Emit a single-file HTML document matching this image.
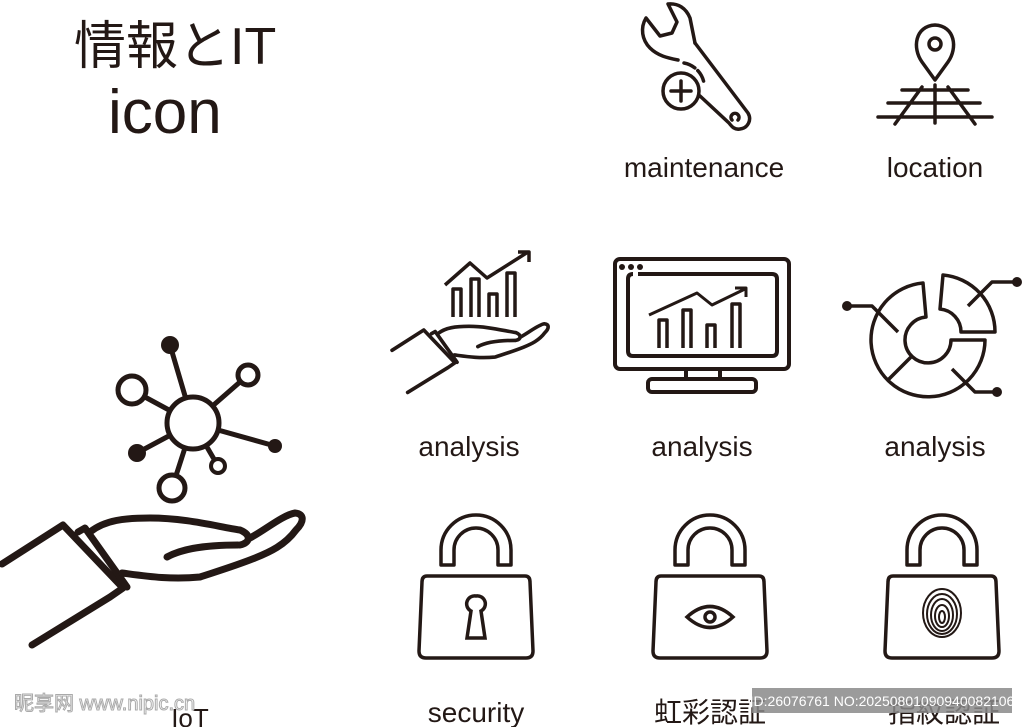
<!DOCTYPE html>
<html><head><meta charset="utf-8"><style>
html,body{margin:0;padding:0;background:#fff;}
svg{display:block;}
text{font-family:"Liberation Sans","Noto Sans CJK JP",sans-serif;fill:#231815;}
</style></head><body>
<svg width="1024" height="727" viewBox="0 0 1024 727" xmlns="http://www.w3.org/2000/svg">
<defs>
<g id="hand" fill="none" stroke="#231815" stroke-width="7" stroke-linecap="round" stroke-linejoin="round">
  <path d="M2,564 L63,525 L123,588 L110,597 L32,645"/>
  <path d="M78,532 L85,528 L127,587"/>
  <path d="M90,532 C105,520 125,518 150,518 C185,518 215,526 240,530 C252,535 250,543 240,545"/>
  <path d="M250,538 C265,530 283,515 295,513 C305,514 304,522 296,530 C285,545 270,552 255,558 C235,566 215,572 200,577 C170,580 145,576 122,573"/>
  <path d="M167,557 C180,550 200,545 238,545"/>
</g>
<g id="lock" fill="none" stroke="#231815" stroke-width="3.5" stroke-linejoin="round">
  <path d="M-35,565 V550 A35 35 0 0 1 35,550 V565 H22 V550 A22 22 0 0 0 -22,550 V565 Z"/>
  <path d="M-49,576 H49 Q54,576 54,582 L57,651 Q57,658 50,658 H-50 Q-57,658 -57,651 L-54,582 Q-54,576 -49,576 Z"/>
</g>
</defs>

<!-- title -->
<text x="74" y="64" font-size="52">情報とIT</text>
<text x="108" y="133" font-size="62">icon</text>

<!-- wrench -->
<g fill="none" stroke="#231815" stroke-width="3.5" stroke-linejoin="round" stroke-linecap="round">
  <path d="M695,43 L690,18 C686,8 678,3 668,4 L677,22 L672,33 L660,36 L646,18 C640,28 642,40 650,48 C658,56 668,58 678,60"/>
  <path d="M695,43 L748,113 C752,120 748,128 740,129 C735,130 732,127 729,123 L700,96"/>
  <path d="M684,63 A25 25 0 0 1 704,83" stroke-dasharray="12 4"/>
  <path d="M732,120 A4 4 0 1 1 738,120"/>
  <circle cx="681" cy="91" r="18"/>
  <path d="M681,81 V101 M671,91 H691"/>
</g>
<!-- location -->
<g fill="none" stroke="#231815" stroke-width="3.5" stroke-linecap="round">
  <path d="M935,80 L922,62 C912,48 915,26 935,25 C955,26 958,48 948,62 Z" stroke-linejoin="round"/>
  <circle cx="935" cy="44" r="6"/>
  <path d="M902,90 H968 M888,103 H980 M878,117 H992 M935,85 V123 M922,87 L895,124 M948,87 L975,124"/>
</g>
<text x="704" y="177" font-size="28" text-anchor="middle">maintenance</text>
<text x="935" y="177" font-size="28" text-anchor="middle">location</text>

<!-- IoT network -->
<g stroke="#231815" stroke-width="5" fill="none">
  <path d="M193,423 L170,345 M193,423 L132,390 M193,423 L248,375 M193,423 L275,446 M193,423 L137,453 M193,423 L218,466 M193,423 L172,488"/>
</g>
<circle cx="193" cy="423" r="26" fill="#fff" stroke="#231815" stroke-width="5"/>
<circle cx="170" cy="345" r="9" fill="#231815"/>
<circle cx="132" cy="390" r="14" fill="#fff" stroke="#231815" stroke-width="5"/>
<circle cx="248" cy="375" r="10" fill="#fff" stroke="#231815" stroke-width="5"/>
<circle cx="275" cy="446" r="7" fill="#231815"/>
<circle cx="137" cy="453" r="9" fill="#231815"/>
<circle cx="218" cy="466" r="7" fill="#fff" stroke="#231815" stroke-width="4"/>
<circle cx="172" cy="488" r="13" fill="#fff" stroke="#231815" stroke-width="5"/>
<use href="#hand"/>

<!-- analysis hand -->
<g transform="translate(391,57) scale(0.52)" stroke-width="6"><use href="#hand"/></g>
<g fill="none" stroke="#231815" stroke-width="3.5" stroke-linejoin="round">
  <path d="M453,317 V289 H461 V317 M471,317 V279 H479 V317 M489,317 V294 H497 V317 M507,317 V273 H515 V317"/>
  <path d="M445,285 L470,263 L487,278 L528,252 M518,252 H529 V262"/>
</g>

<!-- monitor -->
<g fill="none" stroke="#231815" stroke-width="4" stroke-linejoin="round">
  <rect x="615" y="259" width="174" height="110" rx="5"/>
  <path d="M638,274 H772 Q777,274 777,279 V351 Q777,356 772,356 H633 Q628,356 628,351 V279 Q628,274 633,274"/>
  <path d="M686,369 V379 M720,369 V379"/>
  <rect x="648" y="379" width="108" height="13" rx="4"/>
  <path d="M659,348 V320 H667 V348 M683,348 V310 H691 V348 M707,348 V325 H715 V348 M732,348 V304 H740 V348" stroke-width="3.5"/>
  <path d="M649,315 L697,293 L712,305 L745,289 M735,288 H746 V297" stroke-width="3"/>
</g>
<circle cx="622" cy="267" r="3" fill="#231815"/><circle cx="631" cy="267" r="3" fill="#231815"/><circle cx="640" cy="267" r="3" fill="#231815"/>

<!-- pie -->
<g fill="none" stroke="#231815" stroke-width="3.5" stroke-linejoin="round">
  <path d="M985,340 A57 57 0 1 1 923,283 L926,317 A23 23 0 1 0 951,340 Z"/>
  <path d="M943,275 A57 57 0 0 1 995,332 L961,332 A23 23 0 0 0 940,309 Z"/>
  <path d="M912,356 L888,380"/>
  <path d="M847,306 H872 L898,332 M1017,282 H992 L968,306 M997,392 H975 L952,369"/>
</g>
<circle cx="847" cy="306" r="5" fill="#231815"/><circle cx="1017" cy="282" r="5" fill="#231815"/><circle cx="997" cy="392" r="5" fill="#231815"/>

<text x="469" y="456" font-size="28" text-anchor="middle">analysis</text>
<text x="702" y="456" font-size="28" text-anchor="middle">analysis</text>
<text x="935" y="456" font-size="28" text-anchor="middle">analysis</text>

<!-- locks -->
<use href="#lock" transform="translate(476,0)"/>
<use href="#lock" transform="translate(710,0)"/>
<use href="#lock" transform="translate(942,0)"/>
<path d="M476,596 A8 8 0 0 1 481,611 L485,638 H467 L471,611 A8 8 0 0 1 476,596 Z" fill="none" stroke="#231815" stroke-width="3.5"/>
<path d="M687,617 Q710,596 733,617 Q710,638 687,617 Z" fill="none" stroke="#231815" stroke-width="3.5"/>
<circle cx="710" cy="617" r="5" fill="none" stroke="#231815" stroke-width="3.5"/>
<g fill="none" stroke="#231815" stroke-width="2">
  <ellipse cx="942" cy="613" rx="19" ry="24"/>
  <ellipse cx="942" cy="614" rx="15" ry="20"/>
  <ellipse cx="942" cy="615" rx="11" ry="16"/>
  <ellipse cx="942" cy="616" rx="7" ry="11"/>
  <ellipse cx="942" cy="617" rx="3" ry="6"/>
</g>

<text x="476" y="722" font-size="28" text-anchor="middle">security</text>
<text x="710" y="722" font-size="28" text-anchor="middle">虹彩認証</text>
<text x="944" y="722" font-size="28" text-anchor="middle">指紋認証</text>
<text x="190" y="727" font-size="26" text-anchor="middle">IoT</text>

<!-- watermarks -->
<text x="14" y="710" font-size="20" style="fill:#fff;stroke:#aaa;stroke-width:1">昵享网 www.nipic.cn</text>
<rect x="752" y="688" width="260" height="25" fill="#8a8a8a" opacity="0.85"/>
<text x="882" y="706" font-size="14" text-anchor="middle" style="fill:#fff">ID:26076761 NO:20250801090940082106</text>
</svg>
</body></html>
